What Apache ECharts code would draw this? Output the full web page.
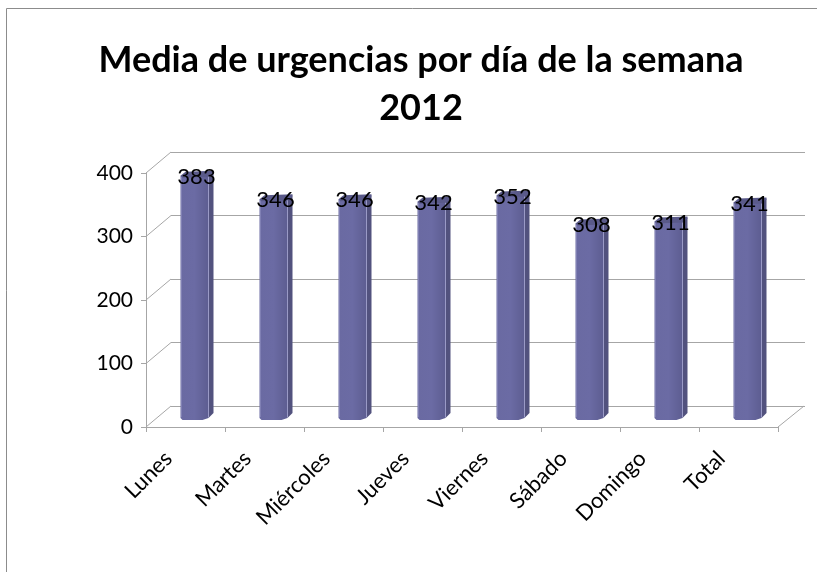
<!DOCTYPE html>
<html><head><meta charset="utf-8">
<script src="https://cdn.jsdelivr.net/npm/echarts@6/dist/echarts.min.js"></script>
<style>html,body{margin:0;padding:0;background:#fff}#c{width:817px;height:572px}</style>
</head><body><div id="c"></div>
<script>
const categories = ['Lunes','Martes','Miércoles','Jueves','Viernes','Sábado','Domingo','Total'];
const values = [383, 346, 346, 342, 352, 308, 311, 341];
const yTicks = [0, 100, 200, 300, 400];
const titleText = 'Media de urgencias por día de la semana\n2012';

const FONT = 'Lato, "Open Sans", sans-serif';
const chart = echarts.init(document.getElementById('c'));

function barItem(params, api) {
  const idx = api.value(0), v = api.value(1);
  const p = api.coord([idx, v]);
  const p0 = api.coord([idx, 0]);
  const dx = 11, dy = -10;
  const cx = p[0] + dx, top = p[1] + dy, base = p0[1] + dy;
  const left = cx - 16, faceR = cx + 12, right = cx + 17;
  return {
    type: 'group',
    children: [
      { type: 'polygon', shape: { points: [[left, top + 2], [faceR, top + 2], [faceR, base + 1], [faceR - 6, base + 3], [left + 2, base + 3], [left, base + 1]] },
        style: { fill: new echarts.graphic.LinearGradient(0, 0, 1, 0, [
          { offset: 0, color: '#6a6aa2' }, { offset: 0.5, color: '#6b6ba4' }, { offset: 1, color: '#5d5d91' }]) } },
      { type: 'polygon', shape: { points: [[faceR, top + 2], [right, top - 2], [right, base - 4], [faceR, base + 1]] },
        style: { fill: '#52527e' } },
      { type: 'line', shape: { x1: faceR, y1: top + 3, x2: faceR, y2: base }, style: { stroke: '#9a9ac6', lineWidth: 1 } },
      { type: 'line', shape: { x1: left + 1, y1: top + 3, x2: left + 1, y2: base }, style: { stroke: '#8080b4', lineWidth: 1 } },
      { type: 'polygon', shape: { points: [[left, top + 2], [left + 5, top - 2], [right, top - 3], [right, top - 1], [faceR, top + 3], [left + 2, top + 4]] },
        style: { fill: '#5a5a8a' } },
      { type: 'text', x: cx, y: top + 3, style: { text: String(v), fill: '#000', font: '22px ' + FONT, align: 'center', verticalAlign: 'middle' } }
    ]
  };
}

function frameItem(params, api) {
  const v = api.value(1);
  const p = api.coord([0, v]);
  const bw = api.size([1, 0])[0];
  const L = p[0] - bw / 2;
  const children = [{ type: 'line', shape: { x1: L, y1: p[1], x2: L + 25, y2: p[1] - 21 }, style: { stroke: '#a6a6a6', lineWidth: 1 } }];
  if (v === 0) {
    const q = api.coord([categories.length - 1, 0]);
    const R = q[0] + bw / 2;
    children.push({ type: 'line', shape: { x1: R, y1: q[1], x2: R + 26, y2: q[1] - 21 }, style: { stroke: '#a6a6a6', lineWidth: 1 } });
  }
  return { type: 'group', children };
}

chart.setOption({
  animation: false,
  title: {
    text: titleText, left: 416, textAlign: 'center', top: 31,
    textStyle: { fontFamily: FONT, fontWeight: 'bold', fontSize: 36, lineHeight: 48, color: '#000' }
  },
  graphic: [{ type: 'rect', shape: { x: 6.5, y: 8.5, width: 840, height: 600 }, style: { fill: 'none', stroke: '#8c8c8c', lineWidth: 1 }, silent: true, z: -10 }],
  grid: [
    { left: 146, right: 39, top: 173, bottom: 145 },
    { left: 171, right: 12, top: 152, bottom: 166 }
  ],
  xAxis: [
    { type: 'category', gridIndex: 0, data: categories, boundaryGap: true,
      axisLine: { lineStyle: { color: '#a6a6a6' } },
      axisTick: { show: true, length: 5, lineStyle: { color: '#a6a6a6' } },
      axisLabel: { rotate: 45, fontSize: 22, fontFamily: FONT, color: '#000', margin: 11, interval: 0, padding: [0, 24, 0, 0] } },
    { type: 'category', gridIndex: 1, data: categories, show: false }
  ],
  yAxis: [
    { type: 'value', gridIndex: 0, min: 0, max: 400, interval: 100,
      axisLine: { show: true, lineStyle: { color: '#a6a6a6' } },
      axisTick: { show: true, length: 5, lineStyle: { color: '#a6a6a6' } },
      splitLine: { show: false },
      axisLabel: { fontSize: 21, fontFamily: FONT, color: '#000', margin: 13 } },
    { type: 'value', gridIndex: 1, min: 0, max: 400, interval: 100,
      axisLine: { show: false }, axisTick: { show: false }, axisLabel: { show: false },
      splitLine: { show: true, lineStyle: { color: '#a6a6a6', width: 1 } } }
  ],
  series: [
    { type: 'custom', xAxisIndex: 0, yAxisIndex: 0, renderItem: frameItem, z: 1,
      data: yTicks.map(t => [0, t]), encode: { x: 0, y: 1 }, silent: true },
    { type: 'custom', xAxisIndex: 0, yAxisIndex: 0, renderItem: barItem, z: 5,
      data: values.map((v, i) => [i, v]), encode: { x: 0, y: 1 } }
  ]
});
</script></body></html>
